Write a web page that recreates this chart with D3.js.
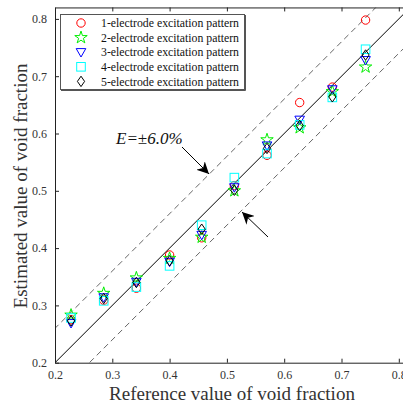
<!DOCTYPE html>
<html>
<head>
<meta charset="utf-8">
<script src="https://cdn.jsdelivr.net/npm/d3@7"></script>
<style>
  body { margin: 0; background: #fff; }
  svg { display: block; }
</style>
</head>
<body>
<div id="chart"></div>
<script>
const width = 403;
const height = 405;

const xRef = [0.228, 0.285, 0.342, 0.4, 0.456, 0.513, 0.57, 0.627, 0.684, 0.742];
const pattern1 = [0.275, 0.309, 0.330, 0.388, 0.418, 0.509, 0.562, 0.654, 0.681, 0.798];
const pattern2 = [0.283, 0.321, 0.348, 0.382, 0.419, 0.500, 0.589, 0.610, 0.673, 0.716];
const pattern3 = [0.269, 0.314, 0.341, 0.376, 0.423, 0.506, 0.579, 0.624, 0.677, 0.728];
const pattern4 = [0.278, 0.308, 0.332, 0.369, 0.440, 0.523, 0.565, 0.615, 0.663, 0.747];
const pattern5 = [0.273, 0.312, 0.340, 0.378, 0.433, 0.501, 0.574, 0.614, 0.664, 0.737];
const seriesNames = [
  "1-electrode excitation pattern",
  "2-electrode excitation pattern",
  "3-electrode excitation pattern",
  "4-electrode excitation pattern",
  "5-electrode excitation pattern"
];
const ticks = [0.2, 0.3, 0.4, 0.5, 0.6, 0.7, 0.8];
const errorBand = 0.06;

const series = [
  { name: seriesNames[0], values: pattern1, color: "#ff0000", shape: "circle" },
  { name: seriesNames[1], values: pattern2, color: "#00ee00", shape: "star" },
  { name: seriesNames[2], values: pattern3, color: "#0000ff", shape: "tri" },
  { name: seriesNames[3], values: pattern4, color: "#00ffff", shape: "square" },
  { name: seriesNames[4], values: pattern5, color: "#000000", shape: "diamond" }
];

const margin = { left: 55, top: 8 };
const x = d3.scaleLinear().domain([0.2, 0.82]).range([margin.left, margin.left + 0.62 * 573]);
const y = d3.scaleLinear().domain([0.2, 0.82]).range([362.7, 362.7 - 0.62 * 573]);

const svg = d3.select("#chart").append("svg")
  .attr("width", width)
  .attr("height", height)
  .attr("font-family", "'Liberation Serif', 'Times New Roman', serif");

svg.append("clipPath").attr("id", "clip")
  .append("rect")
  .attr("x", x(0.2)).attr("y", y(0.82))
  .attr("width", x(0.82) - x(0.2)).attr("height", y(0.2) - y(0.82));

const plot = svg.append("g").attr("clip-path", "url(#clip)");

// reference lines
const line = d3.line().x(d => x(d[0])).y(d => y(d[1]));
plot.append("path")
  .attr("d", line([[0.2, 0.2], [0.82, 0.82]]))
  .attr("stroke", "#000").attr("stroke-width", 1).attr("fill", "none");
[errorBand, -errorBand].forEach(e => {
  plot.append("path")
    .attr("d", line([[0.1, 0.1 + e], [0.9, 0.9 + e]]))
    .attr("stroke", "#666").attr("stroke-width", 1)
    .attr("stroke-dasharray", "6,4").attr("fill", "none");
});

// axes
const tickFmt = d3.format(".1f");
const axisStyle = g => {
  g.select(".domain").attr("stroke", "#222");
  g.selectAll(".tick line").attr("stroke", "#222");
  g.selectAll(".tick text").attr("fill", "#333").attr("font-size", 12)
    .attr("font-family", "'Liberation Serif', serif");
};
svg.append("g").attr("transform", `translate(0,${y(0.2)})`)
  .call(d3.axisBottom(x).tickValues(ticks).tickFormat(tickFmt).tickSizeInner(-4).tickSizeOuter(0).tickPadding(8))
  .call(axisStyle);
svg.append("g").attr("transform", `translate(0,${y(0.82)})`)
  .call(d3.axisTop(x).tickValues(ticks).tickFormat("").tickSizeInner(-4).tickSizeOuter(0))
  .call(axisStyle);
svg.append("g").attr("transform", `translate(${x(0.2)},0)`)
  .call(d3.axisLeft(y).tickValues(ticks).tickFormat(tickFmt).tickSizeInner(-4).tickSizeOuter(0).tickPadding(8))
  .call(axisStyle);

// markers
const star = d3.symbol().type(d3.symbolStar).size(48);
function drawMarker(g, shape, color) {
  if (shape === "circle") {
    g.append("circle").attr("r", 4.2);
  } else if (shape === "square") {
    g.append("rect").attr("x", -4.3).attr("y", -4.3).attr("width", 8.6).attr("height", 8.6);
  } else if (shape === "tri") {
    g.append("path").attr("d", "M-4.8,-3.6L4.8,-3.6L0,4.8Z");
  } else if (shape === "diamond") {
    g.append("path").attr("d", "M0,-5.2L3.6,0L0,5.2L-3.6,0Z");
  } else if (shape === "star") {
    g.append("path").attr("d", star());
  }
  g.selectAll("*").attr("fill", "none").attr("stroke", color).attr("stroke-width", 1);
}

series.forEach(s => {
  const g = plot.append("g");
  s.values.forEach((v, i) => {
    const m = g.append("g").attr("transform", `translate(${x(xRef[i])},${y(v)})`);
    drawMarker(m, s.shape, s.color);
  });
});

// legend
const legend = svg.append("g");
legend.append("rect")
  .attr("x", 60.5).attr("y", 14.5).attr("width", 184).attr("height", 75)
  .attr("fill", "#fff").attr("stroke", "#555").attr("stroke-width", 1);
legend.append("path")
  .attr("d", "M245.5,15V90.5H61")
  .attr("stroke", "#555").attr("stroke-width", 1).attr("fill", "none");
series.forEach((s, i) => {
  const yy = 23 + i * 14.6;
  const m = legend.append("g").attr("transform", `translate(81,${yy})`);
  drawMarker(m, s.shape, s.color);
  legend.append("text")
    .attr("x", 101).attr("y", yy).attr("dy", "0.35em")
    .attr("font-size", 12).attr("fill", "#111")
    .attr("textLength", 138).attr("lengthAdjust", "spacingAndGlyphs")
    .text(s.name);
});

// annotation
svg.append("text")
  .attr("x", 116).attr("y", 144)
  .attr("font-size", 17).attr("font-style", "italic").attr("fill", "#111")
  .text("E=±6.0%");

svg.append("defs").append("marker")
  .attr("id", "arrow").attr("viewBox", "0 0 10 10")
  .attr("refX", 10).attr("refY", 5)
  .attr("markerWidth", 12).attr("markerHeight", 12)
  .attr("markerUnits", "userSpaceOnUse")
  .attr("orient", "auto")
  .append("path").attr("d", "M0,0L10,5L0,10L3,5Z").attr("fill", "#000");

svg.append("line")
  .attr("x1", 182).attr("y1", 147).attr("x2", 209).attr("y2", 174)
  .attr("stroke", "#000").attr("stroke-width", 1).attr("marker-end", "url(#arrow)");
svg.append("line")
  .attr("x1", 268).attr("y1", 237).attr("x2", 242).attr("y2", 212)
  .attr("stroke", "#000").attr("stroke-width", 1).attr("marker-end", "url(#arrow)");

// axis titles
svg.append("text")
  .attr("x", 232).attr("y", 400)
  .attr("text-anchor", "middle").attr("font-size", 19).attr("fill", "#333")
  .text("Reference value of void fraction");
svg.append("text")
  .attr("transform", "translate(27,186) rotate(-90)")
  .attr("text-anchor", "middle").attr("font-size", 19).attr("fill", "#333")
  .text("Estimated value of void fraction");
</script>
</body>
</html>
